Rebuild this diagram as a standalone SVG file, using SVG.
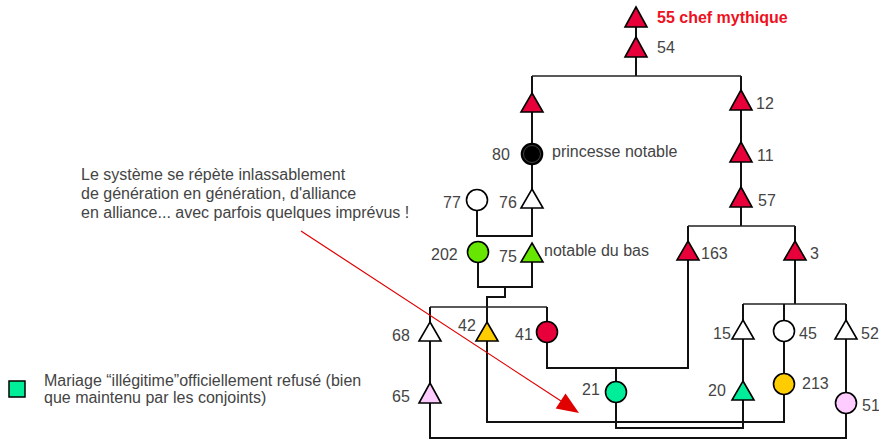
<svg xmlns="http://www.w3.org/2000/svg" width="879" height="439" viewBox="0 0 879 439">
<defs>
<style>
text{font-family:"Liberation Sans",Arial,sans-serif;font-size:16px;fill:#444}
.red{fill:#ee1122;font-weight:bold}
.tri,.cir{stroke:#000;stroke-width:1.6}
.r{fill:#e8003a}.w{fill:#fff}.k{fill:#000}.g1{fill:#66e600}.g2{fill:#00ee99}.y{fill:#ffcc00}.p{fill:#ffccff}
.ln{fill:none;stroke:#111;stroke-width:2}
.bar{fill:none;stroke:#222;stroke-width:1.5}
</style>
</defs>
<g id="connectors">
<path class="ln" d="M636 27V37M636 57V76M532 76V93M741 76V90M532 112V143M532 165V189M741 110V142M741 162V187M741 207V226M688 226V241M795 226V241"/>
<path class="bar" d="M532 76H741M688 226H795"/>
<path class="ln" d="M477 211V236H532V208"/>
<path class="ln" d="M478 263V287H532V262"/>
<path class="ln" d="M505 287V297H487V322"/>
<path class="bar" d="M430 307H547"/>
<path class="ln" d="M430 307V322M547 307V321"/>
<path class="ln" d="M547 343V368H688V260"/>
<path class="ln" d="M616 368V381"/>
<path class="ln" d="M795 260V304"/>
<path class="bar" d="M743 304H846"/>
<path class="ln" d="M743 304V320M784 304V320M846 304V320"/>
<path class="ln" d="M743 339V382M784 342V373M846 339V392M430 341V383"/>
<path class="ln" d="M430 403V438H846V414"/>
<path class="ln" d="M487 341V422H784V395"/>
<path class="ln" d="M616 403V428H743V400"/>
</g>
<g id="n55"><polygon class="tri r" points="636,7 647,27 625,27"/><text class="red" x="657" y="23">55 chef mythique</text></g>
<g id="n54"><polygon class="tri r" points="636,37 647,57 625,57"/><text x="657" y="53">54</text></g>
<g id="nA"><polygon class="tri r" points="532,93 543,112 521,112"/></g>
<g id="n12"><polygon class="tri r" points="741,90 752,110 730,110"/><text x="756" y="109">12</text></g>
<g id="n80"><circle class="cir k" cx="532" cy="154" r="10.5"/><circle cx="532" cy="154" r="8.5" fill="none" stroke="#555" stroke-width="0.8"/><text x="492" y="160">80</text><text x="552" y="157">princesse notable</text></g>
<g id="n11"><polygon class="tri r" points="741,142 752,162 730,162"/><text x="757" y="161">11</text></g>
<g id="n57"><polygon class="tri r" points="741,187 752,207 730,207"/><text x="758" y="206">57</text></g>
<g id="n77"><circle class="cir w" cx="477" cy="200" r="10.5"/><text x="443" y="208">77</text></g>
<g id="n76"><polygon class="tri w" points="532,189 543,208 521,208"/><text x="499" y="208">76</text></g>
<g id="n202"><circle class="cir g1" cx="478" cy="252" r="10.5"/><text x="431" y="260">202</text></g>
<g id="n75"><polygon class="tri g1" points="532,243 543,262 521,262"/><text x="499" y="262">75</text><text x="544" y="256">notable du bas</text></g>
<g id="n163"><polygon class="tri r" points="688,241 699,260 677,260"/><text x="701" y="259">163</text></g>
<g id="n3"><polygon class="tri r" points="795,241 806,260 784,260"/><text x="810" y="259">3</text></g>
<g id="n68"><polygon class="tri w" points="430,322 441,341 419,341"/><text x="392" y="341">68</text></g>
<g id="n42"><polygon class="tri y" points="487,322 498,341 476,341"/><text x="458" y="331">42</text></g>
<g id="n41"><circle class="cir r" cx="547" cy="332" r="10.5"/><text x="515" y="340">41</text></g>
<g id="n15"><polygon class="tri w" points="743,320 754,339 732,339"/><text x="713" y="339">15</text></g>
<g id="n45"><circle class="cir w" cx="784" cy="331" r="10.5"/><text x="799" y="339">45</text></g>
<g id="n52"><polygon class="tri w" points="846,320 857,339 835,339"/><text x="861" y="339">52</text></g>
<g id="n65"><polygon class="tri p" points="430,383 441,403 419,403"/><text x="392" y="402">65</text></g>
<g id="n21"><circle class="cir g2" cx="616" cy="392" r="10.5"/><text x="582" y="395">21</text></g>
<g id="n20"><polygon class="tri g2" points="743,381 754,400 732,400"/><text x="708" y="396">20</text></g>
<g id="n213"><circle class="cir y" cx="784" cy="384" r="10.5"/><text x="802" y="389">213</text></g>
<g id="n51"><circle class="cir p" cx="846" cy="403" r="10.5"/><text x="862" y="411">51</text></g>
<g id="note">
<text x="81" y="180">Le système se répète inlassablement</text>
<text x="81" y="199">de génération en génération, d'alliance</text>
<text x="81" y="218">en alliance... avec parfois quelques imprévus !</text>
<line x1="301" y1="231" x2="561" y2="401" stroke="#e00000" stroke-width="1.2"/>
<polygon points="579,413 555.7,408.4 565.5,393.4" fill="#e00000"/>
</g>
<g id="legend">
<rect x="9" y="381" width="16" height="16" fill="#00ee99" stroke="#000" stroke-width="1.5"/>
<text x="44" y="386">Mariage “illégitime”officiellement refusé (bien</text>
<text x="44" y="403">que maintenu par les conjoints)</text>
</g>
</svg>
